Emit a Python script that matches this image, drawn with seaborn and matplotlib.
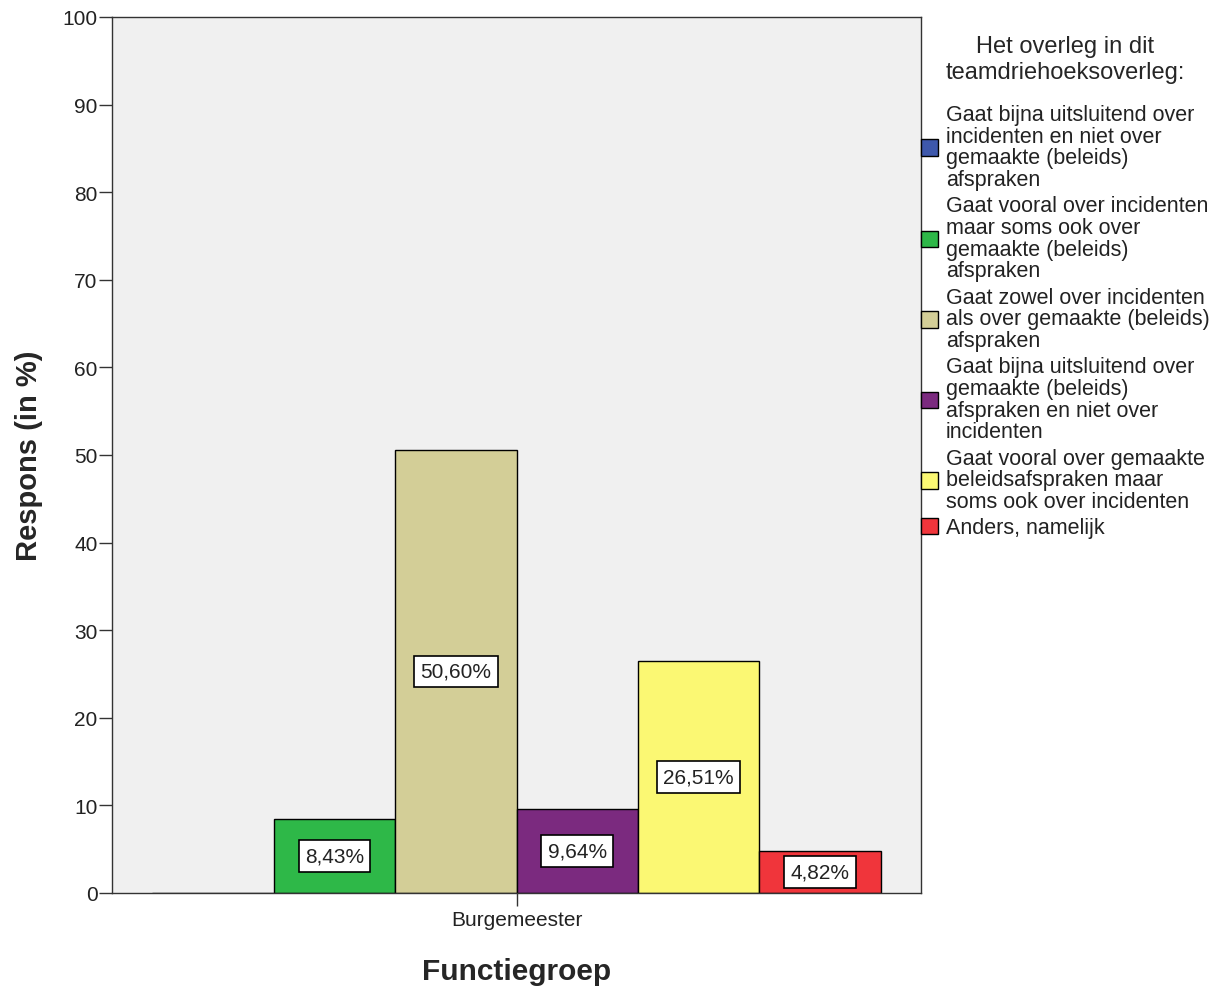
import pandas as pd
import matplotlib.pyplot as plt
import seaborn as sns
from matplotlib.patches import Patch

# --- data ---
groups = ["Burgemeester"]
answers = [
    "Gaat bijna uitsluitend over\nincidenten en niet over\ngemaakte (beleids)\nafspraken",
    "Gaat vooral over incidenten\nmaar soms ook over\ngemaakte (beleids)\nafspraken",
    "Gaat zowel over incidenten\nals over gemaakte (beleids)\nafspraken",
    "Gaat bijna uitsluitend over\ngemaakte (beleids)\nafspraken en niet over\nincidenten",
    "Gaat vooral over gemaakte\nbeleidsafspraken maar\nsoms ook over incidenten",
    "Anders, namelijk",
]
percentages = [0.0, 8.43, 50.60, 9.64, 26.51, 4.82]
colors = ["#3E58AC", "#2EB848", "#D3CE97", "#7B2A7F", "#FBF873", "#F0353B"]
yticks = list(range(0, 101, 10))

df = pd.DataFrame({
    "Functiegroep": groups * len(answers),
    "Overleg": answers,
    "Respons": percentages,
})

sns.set_theme(style="ticks")
plt.rcParams["font.family"] = ["Liberation Sans", "DejaVu Sans"]

fig = plt.figure(figsize=(12.26, 9.87), dpi=100)
ax = fig.add_axes([112 / 1226, 1 - 894 / 987, 809 / 1226, 876 / 987])
ax.set_facecolor("#F0F0F0")

sns.barplot(data=df, x="Functiegroep", y="Respons", hue="Overleg",
            hue_order=answers, palette=colors, width=0.9,
            edgecolor="black", linewidth=1.0, saturation=1, ax=ax,
            legend=False)

# value labels in white boxes at half bar height
for bar in ax.patches:
    h = bar.get_height()
    if h <= 0:
        continue
    ax.text(bar.get_x() + bar.get_width() / 2, h / 2,
            f"{h:.2f}%".replace(".", ","), ha="center", va="center",
            fontsize=15, color="#222222",
            bbox=dict(boxstyle="square,pad=0.3", fc="white", ec="black", lw=1.2))

ax.set_ylim(0, 100)
ax.set_xlim(-0.5, 0.5)
ax.set_yticks(yticks)
ax.tick_params(axis="both", direction="out", length=9.5, width=1,
               labelsize=15, color="#333333", labelcolor="#222222", pad=1)
ax.tick_params(axis="x", pad=3)
for sp in ax.spines.values():
    sp.set_color("#333333")
    sp.set_linewidth(1)
    sp.set_visible(True)

ax.set_xlabel("Functiegroep", fontsize=21.5, fontweight="bold", labelpad=20)
ax.set_ylabel("Respons (in %)", fontsize=21, fontweight="bold", labelpad=14)

handles = [Patch(facecolor=c, edgecolor="black", linewidth=1) for c in colors]
leg = ax.legend(handles, answers, title="Het overleg in dit\nteamdriehoeksoverleg:",
                loc="upper left", bbox_to_anchor=(921 / 1226, 1 - 36 / 987),
                bbox_transform=fig.transFigure, frameon=False, fontsize=15.5,
                title_fontsize=17, handlelength=0.8, handleheight=0.8,
                handletextpad=0.35, labelspacing=0.25, borderpad=0,
                borderaxespad=0)
for t in leg.get_texts():
    t.set_linespacing(1.04)
    t.set_color("#222222")
leg.get_title().set_linespacing(1.25)
leg.get_title().set_multialignment("center")
leg._legend_box.sep = 15  # extra room between title and entries

fig.savefig("out.png", dpi=100)
